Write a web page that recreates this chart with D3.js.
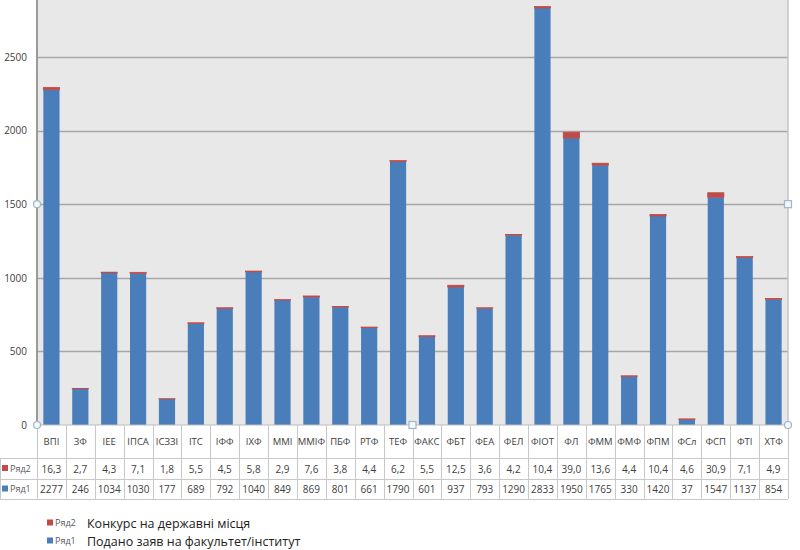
<!DOCTYPE html>
<html><head><meta charset="utf-8">
<script src="https://cdn.jsdelivr.net/npm/d3@7"></script>
<style>body{margin:0;background:#fff;} svg{display:block;}</style>
</head><body>
<svg id="c" width="800" height="550"></svg>
<script>
const categories = ["ВПІ","ЗФ","ІЕЕ","ІПСА","ІСЗЗІ","ІТС","ІФФ","ІХФ","ММІ","ММІФ","ПБФ","РТФ","ТЕФ","ФАКС","ФБТ","ФЕА","ФЕЛ","ФІОТ","ФЛ","ФММ","ФМФ","ФПМ","ФСл","ФСП","ФТІ","ХТФ"];
const series1 = [2277,246,1034,1030,177,689,792,1040,849,869,801,661,1790,601,937,793,1290,2833,1950,1765,330,1420,37,1547,1137,854];
const series2 = [16.3,2.7,4.3,7.1,1.8,5.5,4.5,5.8,2.9,7.6,3.8,4.4,6.2,5.5,12.5,3.6,4.2,10.4,39.0,13.6,4.4,10.4,4.6,30.9,7.1,4.9];
const yTicks = [0,500,1000,1500,2000,2500];
const seriesNames = ["Ряд1","Ряд2"];
const legendLabels = ["Подано заяв на факультет/інститут","Конкурс на державні місця"];
const colors = ["#4a7ebb","#be4b48"];

const svg = d3.select("#c");
const L = 37, R = 788, B = 425;
const x = d3.scaleBand().domain(categories).range([L, R]).paddingInner(0.44).paddingOuter(0.22);
const xCell = d3.scaleBand().domain(categories).range([L, R]);
const y = d3.scaleLinear().domain([0, 3000]).range([B, B - 368 * 1.2]);
const font = "'Open Sans', 'Noto Sans', sans-serif";

// plot background
svg.append("rect").attr("x", L).attr("y", y(3000)).attr("width", R - L).attr("height", B - y(3000)).attr("fill", "#e8e8e8");

// gridlines
svg.append("g").selectAll("line").data(yTicks.filter(d => d > 0)).join("line")
  .attr("x1", L).attr("x2", R).attr("y1", d => Math.round(y(d)) + 0.5).attr("y2", d => Math.round(y(d)) + 0.5)
  .attr("stroke", "#a6a6a6").attr("stroke-width", 1.3);

// y axis
const ya = svg.append("g").attr("transform", `translate(${L},0)`)
  .call(d3.axisLeft(y).tickValues(yTicks).tickFormat(d3.format("d")).tickSize(0).tickPadding(10));
ya.select(".domain").remove();
ya.selectAll("text").attr("font-family", font).attr("font-size", 10).attr("fill", "#404040");

// stacked bars
const stackData = categories.map((c, i) => ({cat: c, s1: series1[i], s2: series2[i]}));
const stack = d3.stack().keys(["s1","s2"])(stackData);
svg.append("g").selectAll("g").data(stack).join("g").attr("fill", (d, i) => colors[i])
  .attr("stroke", (d, i) => i === 1 ? colors[1] : "none").attr("stroke-width", 0.8)
  .selectAll("rect").data(d => d).join("rect")
  .attr("x", d => x(d.data.cat)).attr("width", x.bandwidth())
  .attr("y", d => y(d[1])).attr("height", d => y(d[0]) - y(d[1]));

// axis lines
svg.append("line").attr("x1", L).attr("x2", L).attr("y1", y(3000)).attr("y2", B).attr("stroke", "#9a9a9a").attr("stroke-width", 2);
svg.append("line").attr("x1", R).attr("x2", R).attr("y1", y(3000)).attr("y2", B).attr("stroke", "#c4c4c4").attr("stroke-width", 1.5);
svg.append("line").attr("x1", L).attr("x2", R).attr("y1", B).attr("y2", B).attr("stroke", "#bdbdbd").attr("stroke-width", 1);

// data table
const tg = svg.append("g").attr("font-family", font).attr("font-size", 10);
const grid = "#c8c8c8";
[458, 479, 499].forEach(yy => tg.append("line").attr("x1", 0).attr("x2", R).attr("y1", yy + 0.5).attr("y2", yy + 0.5).attr("stroke", grid));
const vx = categories.map(c => xCell(c)).concat([R]);
tg.selectAll("line.v").data(vx).join("line").attr("class", "v")
  .attr("x1", d => Math.round(d) + 0.5).attr("x2", d => Math.round(d) + 0.5).attr("y1", B).attr("y2", 499).attr("stroke", grid);
tg.append("line").attr("x1", 0.5).attr("x2", 0.5).attr("y1", 458).attr("y2", 499).attr("stroke", grid);
tg.selectAll("text.cat").data(categories).join("text").attr("class", "cat")
  .attr("x", d => xCell(d) + xCell.bandwidth() / 2).attr("y", 445).attr("text-anchor", "middle")
  .attr("fill", "#404040").attr("font-size", 9.5).text(d => d);
const fmt = v => v.toFixed(1).replace(".", ",");
tg.selectAll("text.s2").data(series2).join("text").attr("class", "s2")
  .attr("x", (d, i) => xCell(categories[i]) + xCell.bandwidth() / 2).attr("y", 472.5).attr("text-anchor", "middle")
  .attr("fill", "#404040").text(d => fmt(d));
tg.selectAll("text.s1").data(series1).join("text").attr("class", "s1")
  .attr("x", (d, i) => xCell(categories[i]) + xCell.bandwidth() / 2).attr("y", 493).attr("text-anchor", "middle")
  .attr("fill", "#404040").text(d => d);
[[1, 468.5], [0, 489]].forEach(([si, yy]) => {
  tg.append("rect").attr("x", 2).attr("y", yy - 3.5).attr("width", 6).attr("height", 6).attr("fill", colors[si]);
  tg.append("text").attr("x", 10).attr("y", yy + 3).attr("font-size", 9).attr("fill", "#595959").text(seriesNames[si]);
});

// legend
const lg = svg.append("g").attr("font-family", font);
[[1, 523], [0, 541]].forEach(([si, yy]) => {
  lg.append("rect").attr("x", 47).attr("y", yy - 3.5).attr("width", 6).attr("height", 6).attr("fill", colors[si]);
  lg.append("text").attr("x", 55).attr("y", yy + 3).attr("font-size", 9).attr("fill", "#595959").text(seriesNames[si]);
  lg.append("text").attr("x", 87).attr("y", yy + 4.5).attr("font-size", 12.5).attr("fill", "#222").text(legendLabels[si]);
});

// selection handles
const hs = svg.append("g").attr("fill", "#f4f8fb").attr("stroke", "#9fb6c8").attr("stroke-width", 1.2);
[[L, y(1500)], [L, B], [R, B]].forEach(([cx, cy]) => hs.append("circle").attr("cx", cx).attr("cy", cy).attr("r", 3.5));
[[(L + R) / 2, B], [R, y(1500)]].forEach(([cx, cy]) => hs.append("rect").attr("x", cx - 3.5).attr("y", cy - 3.5).attr("width", 7).attr("height", 7));
</script>
</body></html>
